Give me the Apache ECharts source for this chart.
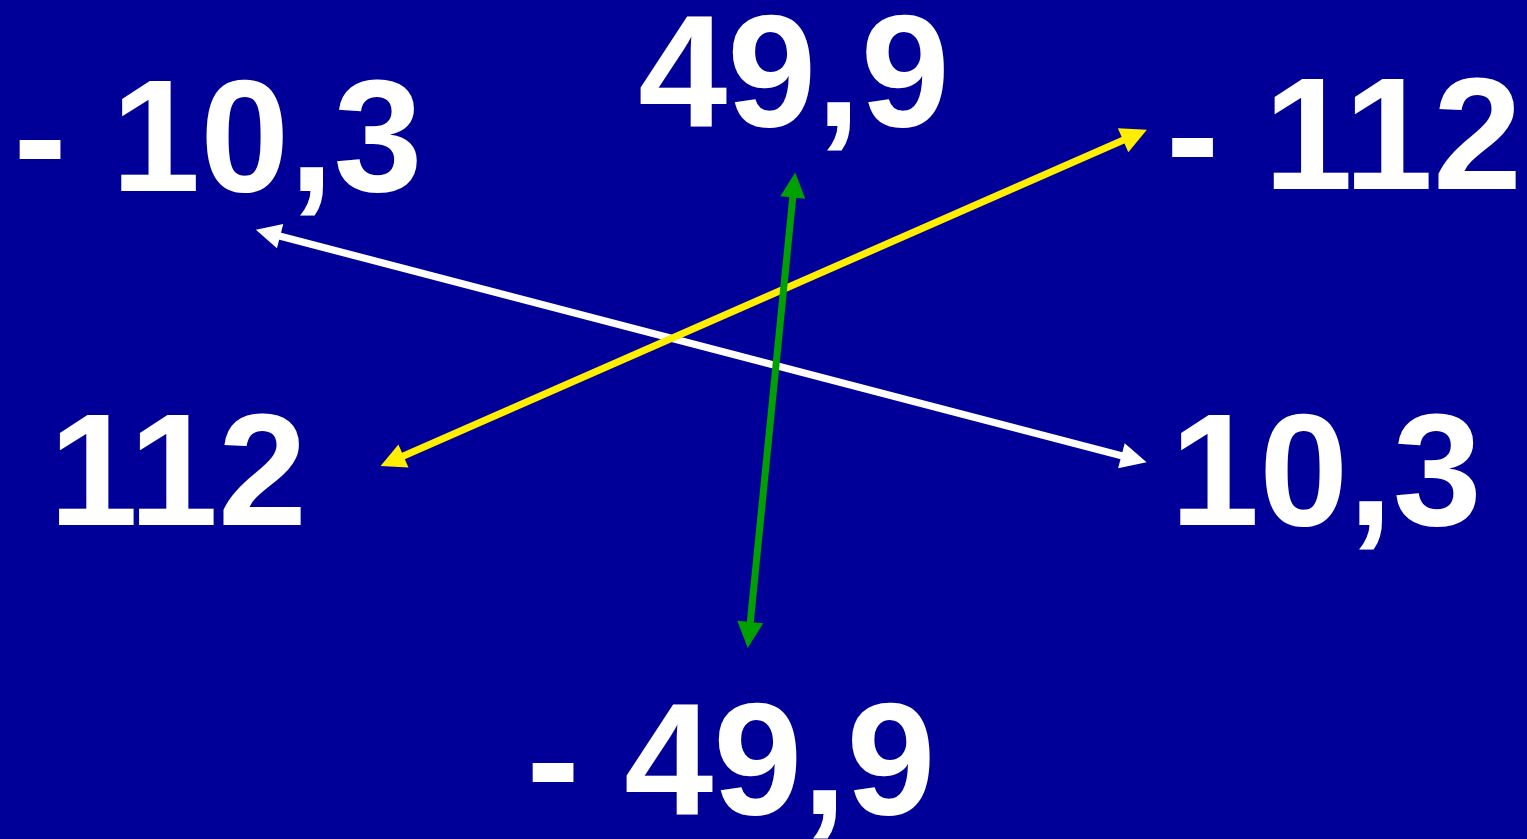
<!DOCTYPE html>
<html><head><meta charset="utf-8">
<script src="https://cdn.jsdelivr.net/npm/echarts@6/dist/echarts.min.js"></script>
<style>html,body{margin:0;padding:0;background:#000099;}#c{width:1527px;height:839px;}</style>
</head><body><div id="c"></div>
<script>
// Label texts and their anchor positions (chart units: x 0..1527, y 0..839 from top)
var labelTexts = ['- 10,3', '49,9', '- 112', '112', '10,3', '- 49,9'];
var labelX = [218, 794, 1344, 178, 1326, 731];
var labelY = [147, 82, 145, 481, 481, 770];
// Double-headed arrows: start and end points (arrowhead centres)
var arrowNames = ['white', 'yellow', 'green'];
var arrowStart = [[268, 233], [392, 461], [794, 185]];
var arrowEnd = [[1134, 459], [1135, 135], [749, 635]];
var arrowColors = ['#ffffff', '#ffee00', '#00a000'];

var chart = echarts.init(document.getElementById('c'));
var labelData = labelTexts.map(function (t, i) { return { value: [labelX[i], labelY[i]], name: t }; });
var lineData = arrowNames.map(function (n, i) {
  return { name: n, coords: [arrowStart[i], arrowEnd[i]], lineStyle: { color: arrowColors[i] } };
});
chart.setOption({
  backgroundColor: '#000099',
  animation: false,
  grid: { left: 0, right: 0, top: 0, bottom: 0 },
  xAxis: { type: 'value', min: 0, max: 1527, show: false },
  yAxis: { type: 'value', min: 0, max: 839, inverse: true, show: false },
  series: [
    {
      type: 'lines', coordinateSystem: 'cartesian2d',
      symbol: ['triangle', 'triangle'], symbolSize: [25, 26],
      lineStyle: { width: 7, opacity: 1, curveness: 0 },
      data: lineData, z: 2
    },
    {
      type: 'scatter', symbolSize: 0, data: labelData, z: 3,
      itemStyle: { opacity: 1 },
      emphasis: { disabled: true },
      label: {
        show: true, position: 'inside', opacity: 1,
        formatter: function (p) { return p.name; },
        color: '#ffffff', fontFamily: 'Liberation Sans, Arial, sans-serif',
        fontWeight: 'bold', fontSize: 160
      }
    }
  ]
});
</script></body></html>
